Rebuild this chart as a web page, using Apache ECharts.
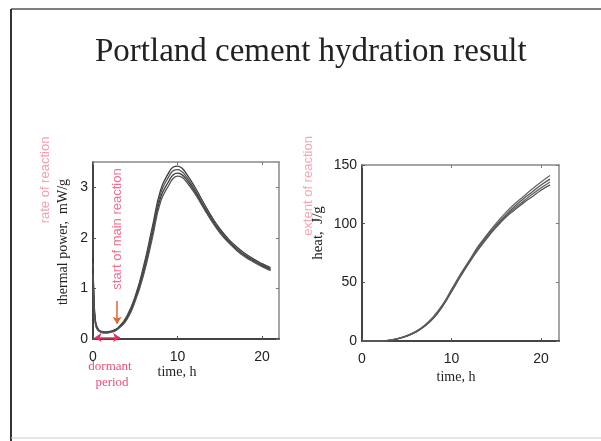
<!DOCTYPE html>
<html>
<head>
<meta charset="utf-8">
<script src="https://cdn.jsdelivr.net/npm/echarts@6/dist/echarts.min.js"></script>
<style>
  html, body { margin: 0; padding: 0; background: #fff; }
  #main { width: 601px; height: 441px; }
</style>
</head>
<body>
<div id="main"></div>
<script>
// time axis, hours
var timeTicks = [0, 10, 20];
var powerTicks = [0, 1, 2, 3];
var heatTicks = [0, 50, 100, 150];

// thermal power, mW/g (several repeat runs)
var powerTime = [0, 0.1, 0.3, 0.6, 1, 1.5, 2, 2.5, 3, 4, 5, 6, 7, 8, 9, 9.5, 10, 10.5, 11, 12, 13, 14, 15, 16, 17, 18, 19, 20, 21];
var powerA = [1.6, 0.9, 0.35, 0.2, 0.15, 0.14, 0.15, 0.18, 0.23, 0.45, 0.85, 1.45, 2.2, 2.95, 3.3, 3.4, 3.42, 3.38, 3.28, 3.02, 2.72, 2.43, 2.18, 1.98, 1.82, 1.69, 1.58, 1.49, 1.41];
var powerB = [1.5, 0.85, 0.33, 0.19, 0.14, 0.13, 0.14, 0.17, 0.22, 0.43, 0.82, 1.4, 2.13, 2.88, 3.22, 3.33, 3.35, 3.31, 3.22, 2.97, 2.67, 2.39, 2.15, 1.95, 1.79, 1.66, 1.56, 1.47, 1.39];
var powerC = [1.4, 0.8, 0.3, 0.18, 0.13, 0.12, 0.13, 0.16, 0.21, 0.4, 0.78, 1.33, 2.05, 2.8, 3.13, 3.25, 3.28, 3.25, 3.17, 2.93, 2.64, 2.36, 2.12, 1.93, 1.77, 1.64, 1.54, 1.45, 1.37];
var powerD = [1.3, 0.75, 0.28, 0.17, 0.13, 0.12, 0.13, 0.15, 0.2, 0.38, 0.75, 1.28, 1.98, 2.72, 3.05, 3.18, 3.22, 3.2, 3.12, 2.89, 2.61, 2.34, 2.1, 1.91, 1.75, 1.62, 1.52, 1.43, 1.35];

// cumulative heat, J/g
var heatTime = [0, 1, 2, 3, 4, 5, 6, 7, 8, 9, 10, 11, 12, 13, 14, 15, 16, 17, 18, 19, 20, 21];
var heatA = [0, 0, 0, 0.5, 2, 4.5, 8, 13.5, 21, 31, 44, 57, 69, 81, 91, 100.5, 109, 116.5, 123, 129.5, 135.5, 141];
var heatB = [0, 0, 0, 0.5, 2, 4.5, 8, 13, 20.5, 30.5, 43, 56, 68, 80, 90, 99, 107, 114.5, 121, 127, 133, 138];
var heatC = [0, 0, 0, 0.5, 2, 4.3, 7.8, 12.8, 20, 30, 42.5, 55.5, 67.5, 79, 89, 98, 106, 113, 119, 125, 130.5, 135.5];
var heatD = [0, 0, 0, 0.5, 1.9, 4.2, 7.5, 12.5, 19.5, 29.5, 42, 55, 67, 78, 88, 97, 105, 111.5, 117.5, 123, 128.5, 133];

// annotation positions (data units)
var dormantStart = 0.2, dormantEnd = 3.2;
var mainStart = 2.85;

function pairs(xs, ys) {
  return xs.map(function (x, i) { return [x, ys[i]]; });
}

var chart = echarts.init(document.getElementById("main"));

var tickFont = { color: "#222", fontSize: 14, fontFamily: "Liberation Sans, Arial, sans-serif" };
var serif = "Liberation Serif, Times New Roman, serif";
var pink = "#f07090";

function bottomAxis(gi) {
  return {
    type: "value", gridIndex: gi, min: 0, max: 22, position: "bottom",
    axisLine: { show: true, onZero: false, lineStyle: { color: "#444", width: 2 } },
    axisTick: { show: true, inside: true, length: 3, customValues: timeTicks, lineStyle: { color: "#555" } },
    axisLabel: Object.assign({ customValues: timeTicks, margin: 11 }, tickFont),
    splitLine: { show: false }
  };
}
function topAxis(gi) {
  return {
    type: "value", gridIndex: gi, min: 0, max: 22, position: "top",
    axisLine: { show: true, onZero: false, lineStyle: { color: "#888", width: 1.5 } },
    axisTick: { show: true, inside: true, length: 3, customValues: timeTicks, lineStyle: { color: "#777" } },
    axisLabel: { show: false },
    splitLine: { show: false }
  };
}
function leftAxis(gi, max, ticks) {
  return {
    type: "value", gridIndex: gi, min: 0, max: max, position: "left",
    axisLine: { show: true, onZero: false, lineStyle: { color: "#444", width: 2 } },
    axisTick: { show: true, inside: true, length: 3, customValues: ticks, lineStyle: { color: "#555" } },
    axisLabel: Object.assign({ customValues: ticks, margin: 5 }, tickFont),
    splitLine: { show: false }
  };
}
function rightAxis(gi, max, ticks) {
  return {
    type: "value", gridIndex: gi, min: 0, max: max, position: "right",
    axisLine: { show: true, onZero: false, lineStyle: { color: "#888", width: 1.5 } },
    axisTick: { show: true, inside: true, length: 3, customValues: ticks, lineStyle: { color: "#777" } },
    axisLabel: { show: false },
    splitLine: { show: false }
  };
}

function curve(name, xi, yi, xs, ys, color) {
  return {
    name: name, type: "line", xAxisIndex: xi, yAxisIndex: yi,
    data: pairs(xs, ys), smooth: true, showSymbol: false,
    lineStyle: { color: color, width: 1.3 }
  };
}

var powerSeries = [
  curve("run 1", 0, 0, powerTime, powerA, "#3a3a3a"),
  curve("run 2", 0, 0, powerTime, powerB, "#555"),
  curve("run 3", 0, 0, powerTime, powerC, "#3a3a3a"),
  curve("run 4", 0, 0, powerTime, powerD, "#555")
];
powerSeries[0].markLine = {
  silent: true,
  label: { show: false },
  data: [
    [
      { coord: [dormantStart, 0.03], symbol: "arrow", symbolSize: 7, lineStyle: { color: "#e8305e", width: 1.5, type: "solid" } },
      { coord: [dormantEnd, 0.03], symbol: "arrow", symbolSize: 7 }
    ],
    [
      { coord: [mainStart, 0.75], symbol: "none", lineStyle: { color: "#e8602a", width: 1.5, type: "solid" } },
      { coord: [mainStart, 0.3], symbol: "arrow", symbolSize: 7 }
    ]
  ]
};

var heatSeries = [
  curve("run 1", 2, 2, heatTime, heatA, "#666"),
  curve("run 2", 2, 2, heatTime, heatB, "#555"),
  curve("run 3", 2, 2, heatTime, heatC, "#666"),
  curve("run 4", 2, 2, heatTime, heatD, "#555")
];

function vtext(x, y, text, color, size, family) {
  return {
    type: "text", x: x, y: y, rotation: Math.PI / 2,
    style: { text: text, fill: color, fontSize: size, fontFamily: family, align: "center", verticalAlign: "middle" }
  };
}
function htext(x, y, text, color, size, family) {
  return {
    type: "text", x: x, y: y,
    style: { text: text, fill: color, fontSize: size, fontFamily: family, align: "center", verticalAlign: "middle" }
  };
}

var option = {
  animation: false,
  backgroundColor: "#fff",
  title: {
    text: "Portland cement hydration result",
    left: 90, top: 31,
    textStyle: { fontFamily: serif, fontSize: 33, fontWeight: "normal", color: "#222" }
  },
  grid: [
    { left: 93, top: 162, width: 186, height: 177 },
    { left: 362, top: 165, width: 197, height: 176 }
  ],
  xAxis: [bottomAxis(0), topAxis(0), bottomAxis(1), topAxis(1)],
  yAxis: [leftAxis(0, 3.5, powerTicks), rightAxis(0, 3.5, powerTicks), leftAxis(1, 150, heatTicks), rightAxis(1, 150, heatTicks)],
  series: powerSeries.concat(heatSeries),
  graphic: [
    // slide frame
    { type: "line", shape: { x1: 11, y1: 9, x2: 601, y2: 9 }, style: { stroke: "#555", lineWidth: 1.5 } },
    { type: "line", shape: { x1: 11, y1: 9, x2: 11, y2: 441 }, style: { stroke: "#333", lineWidth: 2 } },
    { type: "line", shape: { x1: 11, y1: 438, x2: 601, y2: 438 }, style: { stroke: "#ccc", lineWidth: 1 } },
    // axis titles
    vtext(63, 242, "thermal power,  mW/g", "#222", 14, serif),
    htext(177, 372, "time, h", "#222", 14, serif),
    vtext(318, 233, "heat,  J/g", "#222", 15, serif),
    htext(456, 377, "time, h", "#222", 14, serif),
    // annotations
    vtext(45, 180, "rate of reaction", "#f4a0b0", 13, "Liberation Sans, sans-serif"),
    vtext(117, 229, "start of main reaction", pink, 13, "Liberation Sans, sans-serif"),
    vtext(308, 186, "extent of reaction", "#f6a8b0", 13, "Liberation Sans, sans-serif"),
    htext(110, 367, "dormant", "#e8507a", 13, serif),
    htext(112, 383, "period", "#e8507a", 13, serif)
  ]
};

chart.setOption(option);
</script>
</body>
</html>
